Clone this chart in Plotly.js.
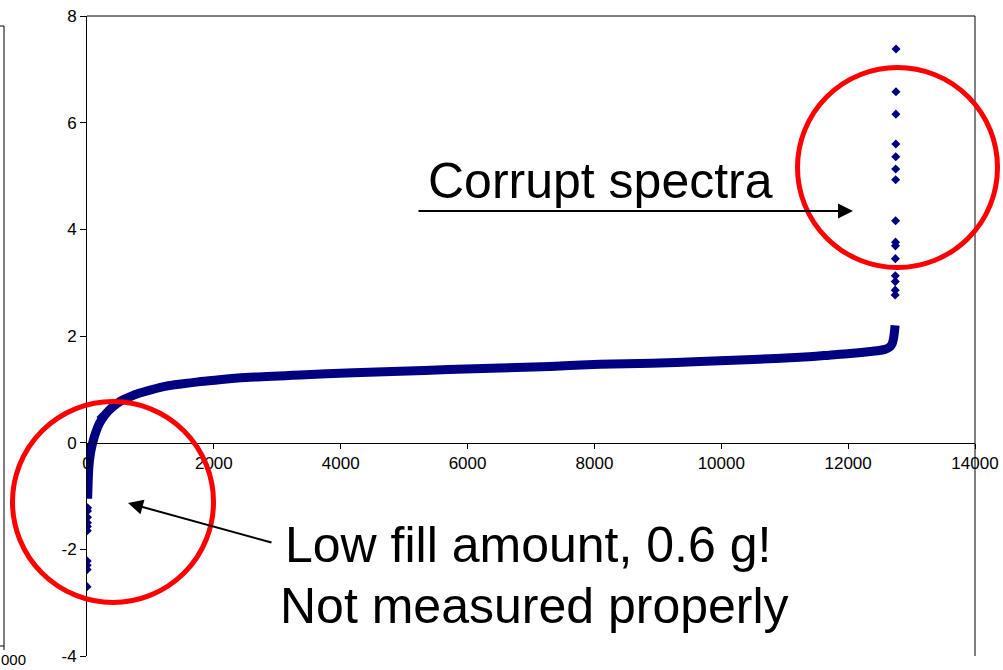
<!DOCTYPE html>
<html>
<head>
<meta charset="utf-8">
<script src="https://cdn.plot.ly/plotly-3.0.1.min.js"></script>
<style>
  html, body { margin: 0; padding: 0; background: #ffffff; }
  #chart { width: 1003px; height: 670px; }
</style>
</head>
<body>
<div id="chart"></div>
<script>
// ---- Data (sorted values vs. index) ----
const bandIndex = [10, 18, 30, 55, 90, 140, 200, 290, 410, 530, 673, 830, 1009, 1250, 1482, 1750, 2013,
                   2500, 3358, 4200, 4935, 5700, 6511, 7300, 8088, 8900, 9665, 10500, 11241, 11700,
                   12030, 12350, 12581, 12650, 12692, 12715, 12730, 12740];
const bandValue = [-1.05, -0.75, -0.45, -0.2, 0.0, 0.2, 0.37, 0.53, 0.675, 0.78, 0.86, 0.93, 0.99, 1.06, 1.10, 1.14, 1.17,
                   1.22, 1.27, 1.31, 1.34, 1.37, 1.40, 1.43, 1.47, 1.49, 1.52, 1.56, 1.60, 1.64,
                   1.67, 1.71, 1.75, 1.79, 1.85, 1.95, 2.08, 2.2];

const lowIndex = [0, 1, 2, 3, 4, 5, 6, 7, 8, 9, 221];
const lowValue = [-2.70, -2.38, -2.30, -2.22, -1.65, -1.57, -1.50, -1.40, -1.28, -1.22, 0.48];

const highIndex = [12741, 12742, 12743, 12744, 12745, 12746, 12747, 12748, 12749, 12750, 12751, 12752, 12753, 12754, 12755];
const highValue = [2.77, 2.86, 3.02, 3.13, 3.45, 3.69, 3.76, 4.16, 4.93, 5.13, 5.36, 5.60, 6.16, 6.58, 7.38];

const xTickVals = [0, 2000, 4000, 6000, 8000, 10000, 12000, 14000];
const xTickText = ['0', '2000', '4000', '6000', '8000', '10000', '12000', '14000'];
const yTickVals = [-4, -2, 0, 2, 4, 6, 8];
const yTickText = ['-4', '-2', '0', '2', '4', '6', '8'];

const annoTop = 'Corrupt spectra';
const annoLow1 = 'Low fill amount, 0.6 g!';
const annoLow2 = 'Not measured properly';
const leftCutLabel = '000';

// ---- Layout helpers (pixel -> paper) ----
const W = 1003, H = 670;
const M = { l: 87, r: 28, t: 16, b: 14 };
const PW = W - M.l - M.r, PH = H - M.t - M.b;
const px = x => (x - M.l) / PW;
const py = y => (H - M.b - y) / PH;

const NAVY = '#000080';
const FONT = 'Liberation Sans, Arial, sans-serif';

const traces = [
  { x: bandIndex, y: bandValue, type: 'scatter', mode: 'lines',
    line: { color: NAVY, width: 9, shape: 'spline', smoothing: 0.7 }, hoverinfo: 'skip', showlegend: false },
  { x: lowIndex, y: lowValue, type: 'scatter', mode: 'markers',
    marker: { symbol: 'diamond', size: 7, color: NAVY }, showlegend: false },
  { x: highIndex, y: highValue, type: 'scatter', mode: 'markers',
    marker: { symbol: 'diamond', size: 7, color: NAVY }, showlegend: false }
];

const layout = {
  width: W, height: H,
  margin: M,
  paper_bgcolor: '#ffffff',
  plot_bgcolor: '#ffffff',
  showlegend: false,
  font: { family: FONT, size: 17, color: '#000000' },
  xaxis: {
    range: [0, 14000], tickvals: xTickVals, ticktext: xTickText,
    showgrid: false, zeroline: false, showline: true, linecolor: '#000', linewidth: 1,
    ticks: 'outside', ticklen: 5, tickcolor: '#000',
    anchor: 'free', position: 1/3,
    tickfont: { family: FONT, size: 17, color: '#000' }
  },
  yaxis: {
    range: [-4, 8], tickvals: yTickVals, ticktext: yTickText,
    showgrid: false, zeroline: false, showline: true, linecolor: '#000', linewidth: 1,
    ticks: 'outside', ticklen: 6, tickcolor: '#000', layer: 'below traces',
    tickfont: { family: FONT, size: 17, color: '#000' }
  },
  shapes: [
    // plot frame top and right
    { type: 'line', xref: 'paper', yref: 'paper', x0: 0, x1: 1, y0: 1, y1: 1, line: { color: '#000', width: 1 } },
    { type: 'line', xref: 'paper', yref: 'paper', x0: 1, x1: 1, y0: 0, y1: 1, line: { color: '#000', width: 1 } },
    // red circles
    { type: 'circle', xref: 'paper', yref: 'paper', x0: px(797.5), x1: px(997.5), y0: py(267.5), y1: py(67.5),
      line: { color: '#ff0000', width: 5 } },
    { type: 'circle', xref: 'paper', yref: 'paper', x0: px(12.5), x1: px(213.5), y0: py(602.5), y1: py(401.5),
      line: { color: '#ff0000', width: 5 } },
    // remnants of neighbouring chart at left edge
    { type: 'line', xref: 'paper', yref: 'paper', x0: px(4), x1: px(4), y0: py(26), y1: py(650), line: { color: '#000', width: 1 } },
    { type: 'line', xref: 'paper', yref: 'paper', x0: px(0), x1: px(4), y0: py(26), y1: py(26), line: { color: '#000', width: 1 } },
    { type: 'line', xref: 'paper', yref: 'paper', x0: px(0), x1: px(4), y0: py(646), y1: py(646), line: { color: '#000', width: 1 } }
  ],
  annotations: [
    { text: annoTop, xref: 'paper', yref: 'paper', x: px(600), y: py(181), xanchor: 'center', yanchor: 'middle',
      showarrow: false, font: { family: FONT, size: 50, color: '#000' } },
    { text: annoLow1, xref: 'paper', yref: 'paper', x: px(528), y: py(545), xanchor: 'center', yanchor: 'middle',
      showarrow: false, font: { family: FONT, size: 50, color: '#000' } },
    { text: annoLow2, xref: 'paper', yref: 'paper', x: px(534), y: py(606), xanchor: 'center', yanchor: 'middle',
      showarrow: false, font: { family: FONT, size: 50, color: '#000' } },
    // arrows
    { text: '', xref: 'paper', yref: 'paper', x: px(853), y: py(211), ax: 417 - 853, ay: 0,
      showarrow: true, arrowhead: 2, arrowsize: 1.5, arrowwidth: 2, arrowcolor: '#000' },
    { text: '', xref: 'paper', yref: 'paper', x: px(128), y: py(503), ax: 273 - 128, ay: 543 - 503,
      showarrow: true, arrowhead: 2, arrowsize: 1.5, arrowwidth: 2, arrowcolor: '#000' },
    // label of neighbouring chart (cut at the edge in the reference)
    { text: leftCutLabel, xref: 'paper', yref: 'paper', x: px(0), y: py(669), xanchor: 'left', yanchor: 'bottom',
      showarrow: false, font: { family: FONT, size: 15, color: '#000' }, borderpad: 0 }
  ]
};

Plotly.newPlot('chart', traces, layout, { displayModeBar: false, responsive: false });
</script>
</body>
</html>
